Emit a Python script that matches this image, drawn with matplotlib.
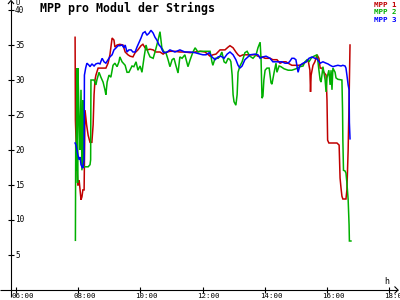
import matplotlib
matplotlib.use("Agg")
import matplotlib.pyplot as plt

# ---------------- data (time in hours, MPP voltage per module in V) -------------
t_red = [7.90, 7.91, 7.96, 7.99, 8.03, 8.06, 8.09, 8.12, 8.15, 8.19, 8.22, 8.27, 8.32, 8.38, 8.44,
         8.48, 8.51, 8.54, 8.57, 8.64, 8.89, 8.96, 9.02, 9.09, 9.15, 9.18, 9.25, 9.34, 9.44, 9.51,
         9.60, 9.67, 9.76, 9.83, 9.92, 10.02, 10.08, 10.15, 10.21, 10.31, 10.41, 10.50, 10.63, 10.73,
         10.79, 10.95, 11.11, 11.27, 11.43, 11.60, 11.76, 11.92, 12.08, 12.24, 12.33, 12.43, 12.56,
         12.72, 12.82, 12.88, 12.98, 13.07, 13.14, 13.20, 13.30, 13.40, 13.52, 13.69, 13.78, 13.91,
         14.01, 14.17, 14.26, 14.39, 14.49, 14.59, 14.68, 14.75, 14.87, 14.97, 15.13, 15.23, 15.33,
         15.39, 15.45, 15.47, 15.49, 15.55, 15.61, 15.68, 15.74, 15.78, 15.84, 15.90, 15.97, 16.00,
         16.02, 16.06, 16.19, 16.32, 16.39, 16.42, 16.45, 16.48, 16.51, 16.61, 16.64, 16.68, 16.71, 16.74]
v_red = [36.1, 24.3, 17.4, 14.9, 15.7, 14.3, 12.9, 13.3, 14.3, 14.3, 25.7, 23.6, 22.1, 21.1, 21.1,
         23.6, 27.9, 30.0, 30.7, 31.7, 31.7, 32.4, 33.6, 36.0, 35.7, 34.7, 35.0, 35.1, 35.0, 34.0,
         33.6, 33.4, 33.3, 33.9, 34.3, 34.9, 35.1, 34.6, 34.3, 34.4, 34.3, 34.0, 34.0, 33.7,
         33.9, 34.1, 34.1, 34.0, 34.0, 33.9, 34.0, 34.1, 34.0, 33.4, 33.6, 33.7, 34.3,
         34.3, 34.7, 34.9, 34.6, 34.0, 33.6, 33.4, 33.6, 33.6, 33.6, 33.6, 33.4, 33.3,
         33.1, 33.1, 32.9, 32.9, 32.4, 32.6, 32.6, 32.4, 32.1, 32.1, 32.1, 32.3, 32.6,
         32.9, 31.4, 28.3, 30.7, 32.1, 32.6, 33.6, 33.1, 31.7, 31.7, 31.1, 30.7, 27.1,
         21.4, 21.0, 21.0, 21.0, 20.7, 16.0, 14.6, 13.4, 13.0, 13.0, 14.3, 20.0, 27.1, 35.0]

t_green = [7.91, 7.92, 7.93, 7.96, 7.98, 7.99, 8.03, 8.06, 8.09, 8.12, 8.15, 8.17, 8.32, 8.38, 8.40,
           8.41, 8.51, 8.57, 8.60, 8.67, 8.73, 8.80, 8.86, 8.89, 8.93, 8.99, 9.05, 9.12, 9.18, 9.25,
           9.31, 9.34, 9.41, 9.51, 9.57, 9.63, 9.73, 9.79, 9.86, 9.92, 9.99, 10.05, 10.12, 10.18,
           10.24, 10.31, 10.41, 10.47, 10.57, 10.63, 10.69, 10.76, 10.82, 10.89, 10.95, 11.02, 11.08,
           11.14, 11.21, 11.27, 11.34, 11.43, 11.53, 11.60, 11.69, 11.76, 11.85, 11.92, 12.24, 12.30,
           12.33, 12.40, 12.50, 12.56, 12.62, 12.69, 12.75, 12.82, 12.88, 12.91, 12.95, 12.98, 13.01,
           13.07, 13.11, 13.14, 13.20, 13.27, 13.36, 13.43, 13.52, 13.62, 13.72, 13.78, 13.85, 13.88,
           13.91, 13.94, 13.97, 14.01, 14.07, 14.14, 14.20, 14.23, 14.30, 14.36, 14.39, 14.46, 14.52,
           14.62, 14.75, 14.87, 15.00, 15.13, 15.23, 15.29, 15.36, 15.42, 15.49, 15.58, 15.68, 15.71,
           15.74, 15.78, 15.81, 15.87, 15.94, 15.97, 16.00, 16.06, 16.10, 16.13, 16.16, 16.19, 16.26,
           16.29, 16.35, 16.48, 16.50, 16.51, 16.53, 16.58, 16.61, 16.64, 16.68, 16.71, 16.72, 16.77]
v_green = [7.1, 21.0, 17.1, 31.7, 15.3, 31.7, 24.3, 20.0, 28.6, 17.1, 27.1, 17.6, 17.6, 17.9, 18.6,
           30.0, 30.0, 29.3, 30.0, 31.1, 30.4, 29.7, 28.6, 27.9, 29.7, 30.7, 30.4, 32.1, 32.4, 31.9,
           32.6, 33.3, 32.6, 32.1, 31.1, 31.1, 32.0, 31.9, 32.6, 31.4, 32.0, 31.1, 33.3, 35.0,
           34.0, 33.3, 33.1, 34.0, 35.7, 36.9, 34.6, 34.0, 33.9, 32.9, 31.9, 32.9, 33.1,
           32.1, 31.0, 33.3, 33.1, 33.6, 31.9, 32.9, 34.0, 34.6, 34.0, 34.1, 34.1, 32.6,
           32.1, 33.1, 33.1, 33.4, 34.0, 32.6, 32.4, 33.1, 32.9, 32.6, 30.7, 27.9, 26.9,
           26.4, 27.9, 31.1, 32.0, 32.6, 33.9, 34.1, 33.4, 33.1, 33.6, 34.6, 35.4, 32.9,
           27.4, 27.7, 30.0, 31.4, 31.7, 31.7, 29.6, 29.4, 31.1, 32.4, 31.1, 32.0, 31.9,
           31.6, 31.4, 31.4, 31.6, 31.9, 32.0, 32.6, 32.9, 32.6, 33.1, 33.4, 33.6, 32.6,
           31.4, 30.0, 29.7, 31.9, 30.0, 28.3, 30.3, 31.4, 29.3, 31.4, 28.6, 31.7, 31.1,
           30.3, 30.1, 30.0, 25.7, 21.4, 17.1, 17.0, 16.7, 15.3, 12.9, 9.3, 7.0, 7.0]

t_blue = [7.90, 7.93, 7.96, 7.99, 8.03, 8.06, 8.09, 8.12, 8.15, 8.19, 8.20, 8.24, 8.28, 8.35, 8.38,
          8.44, 8.51, 8.57, 8.64, 8.70, 8.77, 8.83, 8.89, 8.96, 9.02, 9.09, 9.15, 9.22, 9.28, 9.34,
          9.41, 9.47, 9.51, 9.57, 9.63, 9.70, 9.76, 9.83, 9.89, 9.96, 10.02, 10.08, 10.15, 10.21,
          10.28, 10.34, 10.41, 10.47, 10.53, 10.60, 10.66, 10.73, 10.79, 10.86, 10.95, 11.11, 11.27,
          11.43, 11.60, 11.76, 11.92, 12.01, 12.11, 12.21, 12.30, 12.40, 12.50, 12.59, 12.69, 12.79,
          12.88, 12.98, 13.07, 13.14, 13.20, 13.27, 13.36, 13.46, 13.52, 13.69, 13.78, 13.85, 13.94,
          14.04, 14.17, 14.26, 14.42, 14.55, 14.65, 14.75, 14.81, 14.87, 14.94, 15.00, 15.07, 15.13,
          15.23, 15.33, 15.42, 15.52, 15.61, 15.68, 15.78, 15.87, 15.97, 16.03, 16.10, 16.19, 16.26,
          16.35, 16.45, 16.51, 16.58, 16.61, 16.64, 16.68, 16.71, 16.72, 16.74]
v_blue = [21.0, 20.7, 20.0, 19.3, 18.6, 19.0, 17.9, 17.6, 17.4, 18.6, 30.7, 31.7, 32.4, 32.1, 31.9,
          32.3, 32.0, 32.3, 32.4, 32.3, 33.1, 32.6, 32.4, 32.9, 33.3, 33.6, 34.3, 34.6, 34.9, 34.9,
          35.0, 34.6, 35.0, 34.0, 34.3, 34.3, 34.0, 34.0, 34.7, 35.4, 36.0, 36.7, 36.9, 36.4,
          36.7, 37.1, 36.7, 36.1, 35.7, 35.0, 34.7, 34.0, 33.9, 34.0, 34.3, 34.0, 34.3,
          34.0, 34.0, 33.9, 33.7, 33.6, 33.6, 33.9, 33.3, 32.9, 33.3, 33.4, 33.1, 33.7,
          34.0, 33.6, 32.9, 32.1, 31.7, 32.0, 32.9, 33.3, 33.6, 33.7, 33.6, 33.1, 33.3,
          33.4, 33.1, 32.6, 32.6, 32.6, 32.4, 32.4, 32.7, 33.1, 33.1, 32.9, 31.1, 32.1,
          32.4, 32.6, 33.1, 33.3, 33.1, 33.0, 32.4, 32.6, 32.4, 32.3, 32.1, 31.9, 32.0,
          32.1, 32.0, 32.1, 32.0, 31.7, 30.7, 29.3, 28.6, 23.9, 21.6]

series_names = ["MPP 1", "MPP 2", "MPP 3"]
series_colors = ["#c00000", "#00b000", "#0000ff"]
y_ticks = [5, 10, 15, 20, 25, 30, 35, 40]
x_ticks = [6, 8, 10, 12, 14, 16, 18]
x_tick_labels = ["06:00", "08:00", "10:00", "12:00", "14:00", "16:00", "18:00"]
title = "MPP pro Modul der Strings"

# ---------------- figure ----------------
W, H = 400, 300
fig = plt.figure(figsize=(4, 3), dpi=100)
fig.patch.set_facecolor("white")
ax = fig.add_axes([0, 0, 1, 1])
ax.set_axis_off()

# pixel layout of the reference: 06:00 at px 16, 31.1 px per hour; 0 V at px 290, 7 px per V
X0, PXH = 16.0, 31.1
Y0, PXV = 290.0, 7.0
def hx(px):
    return 6 + (px - X0) / PXH
def vy(py):
    return (Y0 - py) / PXV

ax.set_xlim(hx(0), hx(W))
ax.set_ylim(vy(H), vy(0))

mono = "DejaVu Sans Mono"
kw_axis = dict(color="black", lw=0.8, solid_capstyle="butt")

# axes lines
yaxis_px = 11
ax.plot([hx(yaxis_px), hx(yaxis_px)], [vy(297), vy(0.5)], **kw_axis)
ax.plot([hx(0), hx(398)], [0, 0], **kw_axis)
# arrow heads
ax.plot([hx(8), hx(yaxis_px), hx(14)], [vy(4), vy(0.5), vy(4)], **kw_axis)
ax.plot([hx(394.5), hx(398), hx(394.5)], [vy(286.5), vy(290), vy(293.5)], **kw_axis)

# y ticks
for v in y_ticks:
    ax.plot([hx(8), hx(14)], [v, v], **kw_axis)
    ax.text(hx(15), v, str(v), fontsize=5.6, family=mono, ha="left", va="center", color="black")
# x ticks
for t, lab in zip(x_ticks, x_tick_labels):
    ax.plot([t, t], [vy(287), vy(293)], **kw_axis)
    ax.text(hx(X0 + (t - 6) * PXH - 5), vy(292.5), lab, fontsize=5.4, family=mono,
            ha="left", va="top", color="black")

# axis unit labels
ax.text(hx(16), vy(0.2), "U", fontsize=5, family=mono, ha="left", va="top")
ax.text(hx(384), vy(277), "h", fontsize=6, family=mono, ha="left", va="top")

# title
ax.text(hx(40), vy(1.5), title, fontsize=8.4, family=mono, weight="bold",
        ha="left", va="top", color="black")

# legend (text only)
for i, (name, col) in enumerate(zip(series_names, series_colors)):
    ax.text(hx(396), vy(7.2 + 7.2 * i), name, fontsize=5.4, family=mono, weight="bold",
            ha="right", va="baseline", color=col)

# data
for tt, vv, col in [(t_red, v_red, series_colors[0]),
                    (t_green, v_green, series_colors[1]),
                    (t_blue, v_blue, series_colors[2])]:
    ax.plot(tt, vv, color=col, lw=1.1, solid_joinstyle="miter")

fig.savefig("out.png", dpi=100, facecolor="white")
